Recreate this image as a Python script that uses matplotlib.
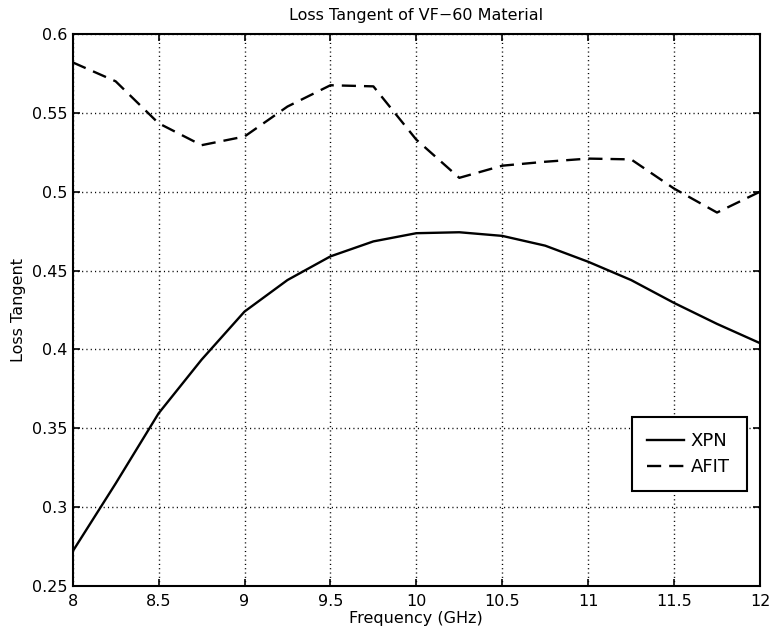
import matplotlib
matplotlib.use('Agg')
import matplotlib.pyplot as plt
import numpy as np

plt.rcParams['font.family'] = ['DejaVu Sans']

# frequency points (GHz)
freq = [8.0, 8.25, 8.5, 8.75, 9.0, 9.25, 9.5, 9.75, 10.0, 10.25,
        10.5, 10.75, 11.0, 11.25, 11.5, 11.75, 12.0]

xpn = [0.272, 0.315, 0.3595, 0.3935, 0.424, 0.444, 0.459, 0.4685, 0.4737, 0.4743,
       0.472, 0.4658, 0.4556, 0.444, 0.4295, 0.4162, 0.404]
afit = [0.582, 0.570, 0.5434, 0.5295, 0.535, 0.554, 0.5675, 0.5668, 0.533, 0.5088,
        0.5165, 0.519, 0.521, 0.5205, 0.502, 0.4868, 0.500]

x_ticks = [8, 8.5, 9, 9.5, 10, 10.5, 11, 11.5, 12]
x_ticklabels = ['8', '8.5', '9', '9.5', '10', '10.5', '11', '11.5', '12']
y_ticks = [0.25, 0.3, 0.35, 0.4, 0.45, 0.5, 0.55, 0.6]
y_ticklabels = ['0.25', '0.3', '0.35', '0.4', '0.45', '0.5', '0.55', '0.6']

fig = plt.figure(figsize=(7.75, 6.39), dpi=100)
ax = fig.add_axes([0.0938, 0.0829, 0.8868, 0.8639])

ax.plot(freq, xpn, color='black', linestyle='-', linewidth=1.7, label='XPN')
ax.plot(freq, afit, color='black', linestyle=(0, (6, 3.4)), linewidth=1.7, label='AFIT')

ax.set_xlim(8, 12)
ax.set_ylim(0.25, 0.6)
ax.set_xticks(x_ticks)
ax.set_xticklabels(x_ticklabels)
ax.set_yticks(y_ticks)
ax.set_yticklabels(y_ticklabels)

ax.grid(True, color='black', linestyle=(0, (0.8, 2.3)), linewidth=1.0)
ax.tick_params(direction='in', which='both', top=True, right=True,
               length=5, width=1.2, labelsize=11.5)
ax.tick_params(axis='x', pad=6)
ax.tick_params(axis='y', pad=4)
for sp in ax.spines.values():
    sp.set_linewidth(1.5)

ax.set_title('Loss Tangent of VF\u221260 Material', fontsize=11.5, pad=10)
ax.set_xlabel('Frequency (GHz)', fontsize=11.5, labelpad=1)
ax.set_ylabel('Loss Tangent', fontsize=11.5, labelpad=4)

leg = ax.legend(loc='upper left', bbox_to_anchor=(0.814, 0.307, 0.167, 0.0),
                mode='expand', borderaxespad=0,
                fontsize=13, fancybox=False, framealpha=1, edgecolor='black',
                handlelength=2.0, handletextpad=0.4, borderpad=0.85, labelspacing=0.45)
leg.get_frame().set_linewidth(1.5)

fig.savefig('out.png', dpi=100)
